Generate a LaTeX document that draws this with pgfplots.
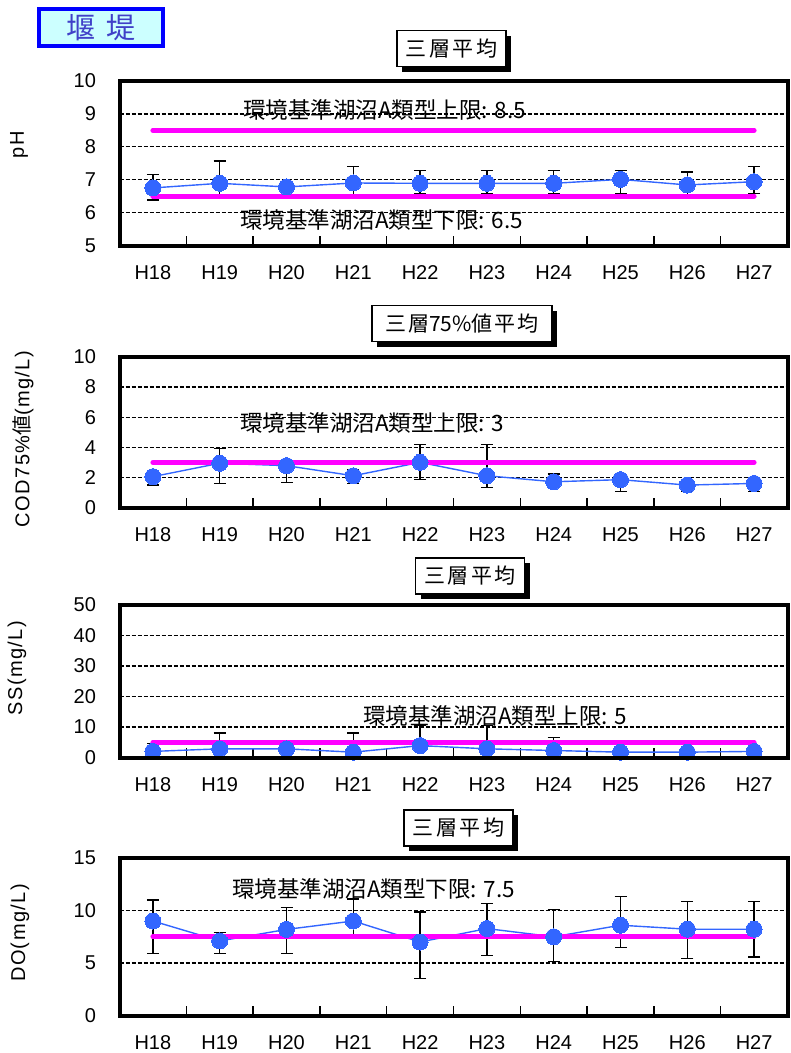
\documentclass[border=0pt]{standalone}
\usepackage{fontspec}
\setmainfont{Liberation Sans}
\newfontfamily\cjk{Noto Sans CJK JP}
\newfontfamily\spaced[LetterSpace=7]{Liberation Sans}
\usepackage{pgfplots}
\usepackage{pgfplotstable}
\pgfplotsset{compat=1.18}
\usetikzlibrary{shadows}
\definecolor{ptblue}{HTML}{3366FF}
\definecolor{mag}{HTML}{FF00FF}
\definecolor{hdrblue}{HTML}{0000FF}
\definecolor{hdrfill}{HTML}{CCFFFF}
\definecolor{hdrtext}{HTML}{4040C8}

\pgfplotstableread{
x y hi lo
0 6.75 7.15 6.38
1 6.89 7.57 6.55
2 6.78 6.95 6.55
3 6.90 7.40 6.55
4 6.89 7.28 6.58
5 6.89 7.28 6.58
6 6.89 7.28 6.58
7 7.01 7.28 6.58
8 6.84 7.23 6.55
9 6.94 7.40 6.58
}\phdata
\pgfplotstableread{
x y hi lo
0 2.05 2.30 1.50
1 2.94 3.90 1.60
2 2.78 3.10 1.67
3 2.11 2.50 1.60
4 3.00 4.20 1.85
5 2.11 4.20 1.33
6 1.71 2.23 1.40
7 1.85 2.10 1.06
8 1.49 1.70 1.06
9 1.60 1.80 1.06
}\coddata
\pgfplotstableread{
x y hi lo
0 2.00 4.60 1.00
1 2.85 8.00 1.00
2 2.85 4.50 1.50
3 1.75 8.00 1.00
4 3.90 10.50 2.00
5 2.85 10.50 1.50
6 2.30 6.50 1.00
7 1.75 3.00 1.00
8 1.75 3.00 1.00
9 2.00 3.00 1.00
}\ssdata
\pgfplotstableread{
x y hi lo
0 9.00 11.00 5.90
1 7.10 7.90 5.90
2 8.20 10.30 5.90
3 9.00 11.10 7.40
4 7.00 9.85 3.53
5 8.28 10.70 5.70
6 7.50 10.10 5.15
7 8.60 11.35 6.47
8 8.22 10.87 5.40
9 8.22 10.87 5.56
}\dodata

\pgfplotsset{
  panel/.style={
    scale only axis, width=668pt,
    xmin=-0.5, xmax=9.5,
    xtick={0,...,9},
    xticklabels={H18,H19,H20,H21,H22,H23,H24,H25,H26,H27},
    minor xtick={0.5,1.5,...,8.5},
    xtick pos=bottom,
    tick align=inside,
    major tick length=0pt,
    minor tick length=10pt,
    minor tick style={line width=1.4pt, black},
    ytick style={draw=none},
    ymajorgrids,
    major grid style={black, line width=1.3pt, dash pattern=on 4pt off 2pt},
    tick label style={font=\fontsize{20}{24}\selectfont},
    /pgf/number format/assume math mode=true,
    xticklabel style={yshift=-16pt},
    yticklabel style={xshift=-20pt},
    clip=false,
    after end axis/.code={\draw[line width=4pt, line join=miter] (rel axis cs:0,0) rectangle (rel axis cs:1,1);},
  },
  dataser/.style={
    color=ptblue, line width=1.4pt, mark=*, mark size=8pt,
    mark options={fill=ptblue, draw=ptblue, line width=0pt},
    error bars/.cd, y dir=both, y explicit,
    error bar style={black, line width=1.3pt},
    error mark options={rotate=90, mark size=6pt, black, line width=1.3pt},
  },
  limline/.style={mag, line width=5pt, line cap=round},
}
\newcommand{\lbl}[1]{{\cjk\fontsize{22.5}{26}\selectfont #1}}
\newcommand{\ttltext}{三\hspace{2.5pt}層\hspace{2.5pt}平\hspace{2.5pt}均}

\begin{document}
\begin{tikzpicture}
\useasboundingbox (0,0) rectangle (791pt,-1053pt);
\tikzset{ttl/.style={draw=black, fill=white, line width=1.3pt, inner sep=0pt,
  minimum height=36pt, general shadow={fill=black, shadow xshift=5pt, shadow yshift=-5pt},
  font=\cjk\fontsize{21}{24}\selectfont}}

% pH
\begin{axis}[panel, at={(119.5pt,-245.5pt)}, anchor=south west, height=164.5pt,
  ymin=5, ymax=10, ytick={5,6,...,10}]
\addplot[dataser] table[x=x, y=y, y error plus expr=\thisrow{hi}-\thisrow{y}, y error minus expr=\thisrow{y}-\thisrow{lo}] {\phdata};
\addplot[limline] coordinates {(0,8.5) (9,8.5)};
\addplot[limline] coordinates {(0,6.5) (9,6.5)};
\end{axis}

% COD
\begin{axis}[panel, at={(119.5pt,-507.5pt)}, anchor=south west, height=150.5pt,
  ymin=0, ymax=10, ytick={0,2,...,10}]
\addplot[dataser] table[x=x, y=y, y error plus expr=\thisrow{hi}-\thisrow{y}, y error minus expr=\thisrow{y}-\thisrow{lo}] {\coddata};
\addplot[limline] coordinates {(0,3) (9,3)};
\end{axis}

% SS
\begin{axis}[panel, at={(119.5pt,-757.5pt)}, anchor=south west, height=152.5pt,
  ymin=0, ymax=50, ytick={0,10,...,50}]
\addplot[dataser] table[x=x, y=y, y error plus expr=\thisrow{hi}-\thisrow{y}, y error minus expr=\thisrow{y}-\thisrow{lo}] {\ssdata};
\addplot[limline] coordinates {(0,5) (9,5)};
\end{axis}

% DO
\begin{axis}[panel, at={(119.5pt,-1015.5pt)}, anchor=south west, height=157.5pt,
  ymin=0, ymax=15, ytick={0,5,10,15}]
\addplot[dataser] table[x=x, y=y, y error plus expr=\thisrow{hi}-\thisrow{y}, y error minus expr=\thisrow{y}-\thisrow{lo}] {\dodata};
\addplot[limline] coordinates {(0,7.5) (9,7.5)};
\end{axis}

% limit labels
\node[anchor=west, inner sep=0pt] at (243pt,-110pt) {\lbl{環境基準湖沼A類型上限: 8.5}};
\node[anchor=west, inner sep=0pt] at (240pt,-220pt) {\lbl{環境基準湖沼A類型下限: 6.5}};
\node[anchor=west, inner sep=0pt] at (240pt,-423pt) {\lbl{環境基準湖沼A類型上限: 3}};
\node[anchor=west, inner sep=0pt] at (363pt,-716pt) {\lbl{環境基準湖沼A類型上限: 5}};
\node[anchor=west, inner sep=0pt] at (232pt,-889pt) {\lbl{環境基準湖沼A類型下限: 7.5}};

% panel titles
\node[ttl, minimum width=109pt] at (451.5pt,-48.5pt) {\ttltext};
\node[ttl, minimum width=180pt] at (462pt,-323.5pt) {三\hspace{2pt}層75\%値\hspace{2pt}平\hspace{2pt}均};
\node[ttl, minimum width=109pt] at (470pt,-576pt) {\ttltext};
\node[ttl, minimum width=109pt] at (458.5pt,-828pt) {\ttltext};

% y labels
\node[rotate=90, font=\spaced\fontsize{20}{22}\selectfont] at (19pt,-145pt) {pH};
\node[rotate=90, font=\spaced\fontsize{20}{22}\selectfont] at (23pt,-439pt) {COD75\%{\cjk 値}(mg/L)};
\node[rotate=90, font=\spaced\fontsize{20}{22}\selectfont] at (17pt,-668pt) {SS(mg/L)};
\node[rotate=90, font=\spaced\fontsize{20}{22}\selectfont] at (20pt,-933pt) {DO(mg/L)};

% header
\node[draw=hdrblue, fill=hdrfill, line width=4pt, minimum width=124pt, minimum height=37pt,
  inner sep=0pt, text=hdrtext, font=\cjk\fontsize{29}{32}\selectfont] at (101pt,-27.5pt) {堰\hspace{12pt}堤};
\end{tikzpicture}
\end{document}
